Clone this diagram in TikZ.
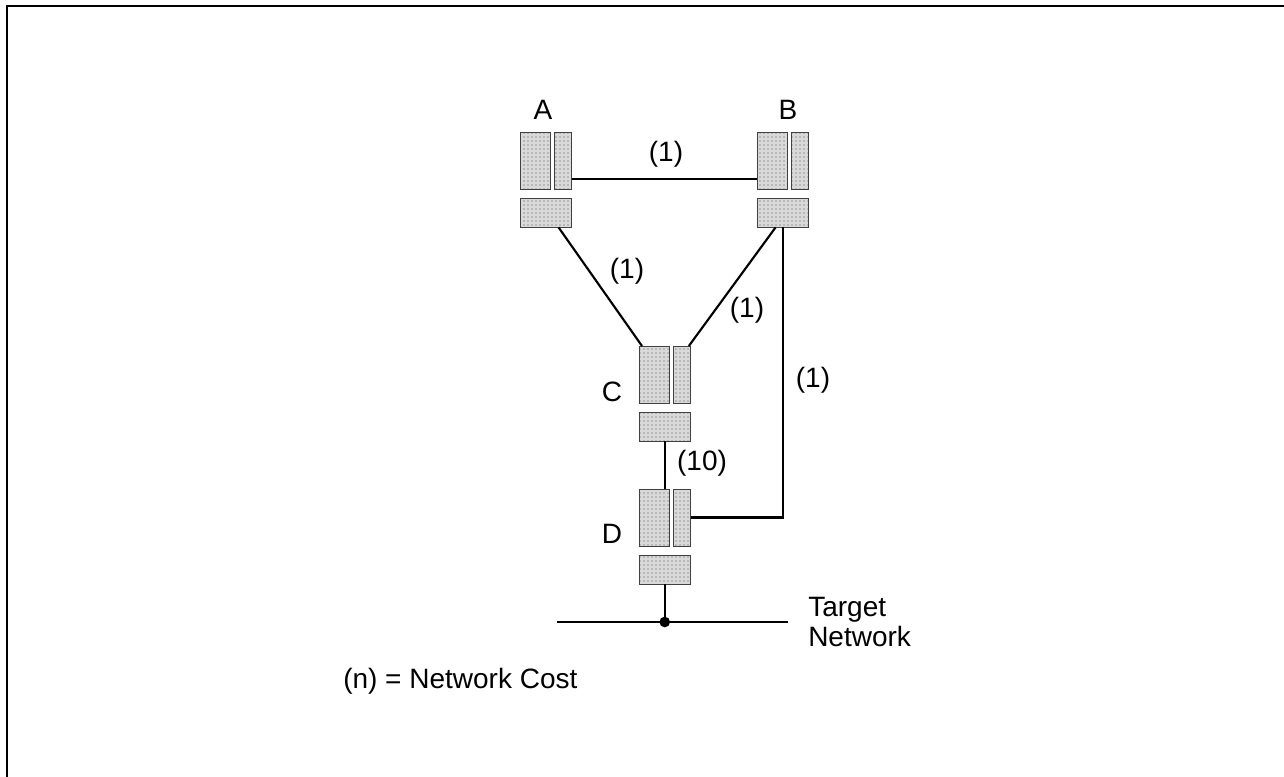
\documentclass[tikz,border=0pt]{standalone}
\usepackage{fontspec}
\setmainfont{Liberation Sans}
\usetikzlibrary{positioning, calc, patterns}
\tikzset{
  cell/.style={draw=black!75, line width=0.6pt, inner sep=0pt, outer sep=0pt,
    preaction={fill=black!15}, pattern=dots, pattern color=black!70},
  big/.style={cell, minimum width=22.5pt, minimum height=42.75pt},
  slim/.style={cell, minimum width=12.75pt, minimum height=42.75pt},
  tray/.style={cell, minimum width=38.6pt, minimum height=21.75pt},
  link/.style={line width=1.6pt},
  lbl/.style={font=\fontsize{21}{23}\selectfont, inner sep=0pt},
}
\begin{document}
\begin{tikzpicture}[x=0.75pt, y=-0.75pt]
  \useasboundingbox (0,0) rectangle (1284,777);
  \draw[line width=2.2pt] (7,777) -- (7,6) -- (1284,6);
  \foreach \x/\y/\n in {520/132/A, 757/132/B, 639/346/C, 639/489/D} {
    \node[big, anchor=north west] (\n1) at (\x,\y) {};
    \node[slim, right=3.4pt of \n1] (\n2) {};
    \node[tray, below right=7.1pt and 0pt of \n1.south west] (\n3) {};
  }
  \node[lbl] (nameA) at (543,110) {A};
  \node[lbl] (nameB) at (788,110) {B};
  \node[lbl] (nameC) at (612,392) {C};
  \node[lbl] (nameD) at (612,534) {D};
  \node[lbl] (costAB) at (666,154) {(1)};
  \node[lbl] (costAC) at (627,271) {(1)};
  \node[lbl] (costBC) at (747,310) {(1)};
  \node[lbl] (costBD) at (813,380) {(1)};
  \node[lbl] (costCD) at (702,463) {(10)};
  \node[lbl, anchor=west, align=left] (target) at (808,622) {Target\\Network};
  \node[lbl, anchor=west] (legend) at (343,681) {(n) = Network Cost};

  \draw[link] ([yshift=7.5pt]A2.south east) -- ([yshift=7.5pt]B1.south west);
  \draw[link] ($(A3.south west)!0.75!(A3.south east)$) -- ($(C1.north west)!0.1!(C1.north east)$);
  \draw[link] ($(B3.south west)!0.36!(B3.south east)$) -- ($(C2.north west)!0.9!(C2.north east)$);
  \draw[link] (B3.south) |- (D2.east);
  \draw[link] (C3.south) -- (C3.south |- D1.north);
  \coordinate (tap) at (D3.south |- 0,622);
  \coordinate (busL) at (557,622);
  \coordinate (busR) at (788,622);
  \draw[link] (D3.south) -- (tap);
  \draw[link] (busL) -- (busR);
  \fill (tap) circle (4pt);
\end{tikzpicture}
\end{document}
